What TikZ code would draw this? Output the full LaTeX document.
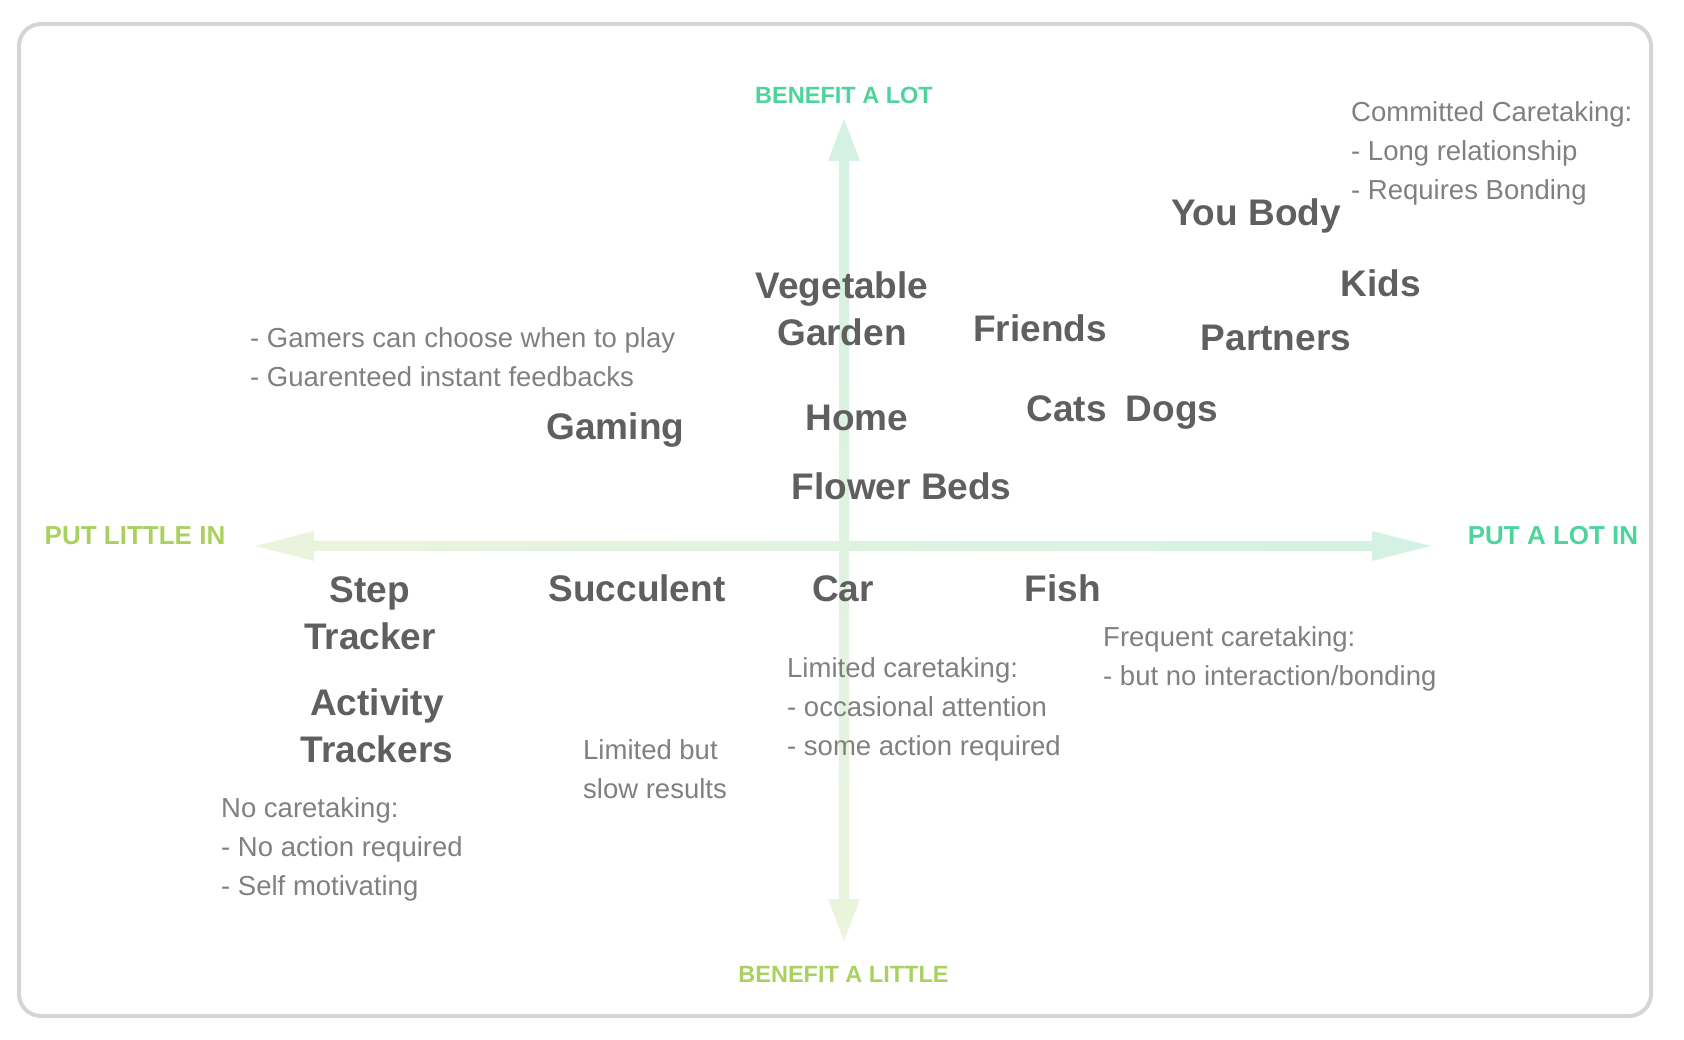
\documentclass[tikz,border=0pt]{standalone}
\usepackage{fontspec}
\setmainfont{Liberation Sans}
\usetikzlibrary{calc}

\definecolor{txtdark}{HTML}{5F5F5F}
\definecolor{txtnote}{HTML}{808080}
\definecolor{lotgreen}{HTML}{4CD49C}
\definecolor{littlegreen}{HTML}{A9D15F}
\definecolor{arrowlot}{HTML}{D3F1E4}
\definecolor{arrowlittle}{HTML}{EBF4DC}
\definecolor{framegray}{HTML}{D5D5D5}

\begin{document}
\begin{tikzpicture}[x=1pt, y=-1pt,
    item/.style={anchor=base, inner sep=0, align=center, text=txtdark,
        font=\fontsize{37}{47}\selectfont\bfseries},
    note/.style={anchor=base west, inner sep=0, align=left, text=txtnote,
        font=\fontsize{27.5}{39}\selectfont},
    axislot/.style={anchor=base, inner sep=0, text=lotgreen},
    axislittle/.style={anchor=base, inner sep=0, text=littlegreen}]

    \useasboundingbox (0, 0) rectangle (1684, 1040);

    \def\framethick{4pt}

    \coordinate (left) at (255, 546);
    \coordinate (right) at (1431, 546);
    \coordinate (top) at (844, 119);
    \coordinate (bottom) at (844, 941);

    % frame
    \draw[framegray, line width=\framethick, rounded corners=22] (19, 24) rectangle (1651, 1016);

    % axes
    \shade[left color=arrowlittle, right color=arrowlot] (left) -- ++(59, 15) -- ++(0, -10) -- ++(1058, 0) -- ++(0, 10)
        -- (right) -- ++(-59, -15) -- ++(0, 10) -- ++(-1058, 0) -- ++(0, -10) -- cycle;
    \shade[top color=arrowlot, bottom color=arrowlittle] (top) -- ++(16, 42) -- ++(-11, 0) -- ++(0, 738) -- ++(11, 0)
        -- (bottom) -- ++(-16, -42) -- ++(11, 0) -- ++(0, -738) -- ++(-11, 0) -- cycle;

    \node[axislot, font=\fontsize{23.5}{23.5}\selectfont\bfseries] (lot) at (844, 104) {BENEFIT A LOT};
    \node[axislittle, font=\fontsize{23.5}{23.5}\selectfont\bfseries] (little) at (843.5, 982) {BENEFIT A LITTLE};
    \node[axislittle, font=\fontsize{26}{26}\selectfont\bfseries] (putlittle) at (135, 544) {PUT LITTLE IN};
    \node[axislot, font=\fontsize{26}{26}\selectfont\bfseries] (putlot) at (1553, 544) {PUT A LOT IN};

    % things to care for
    \node[item] (veggie) at (842, 346) {Vegetable\\Garden};
    \node[item] (friends) at (1040, 342) {Friends};
    \node[item] (youbody) at (1256, 226) {You Body};
    \node[item] (kids) at (1381, 297) {Kids};
    \node[item] (partners) at (1276, 351) {Partners};
    \node[item] (cats) at (1066.5, 421) {Cats};
    \node[item] (dogs) at (1172, 421) {Dogs};
    \node[item] (home) at (857, 430) {Home};
    \node[item] (gaming) at (615.5, 439) {Gaming};
    \node[item] (flowers) at (901.5, 499) {Flower Beds};
    \node[item] (step) at (370, 649) {Step\\Tracker};
    \node[item] (succulent) at (637, 601) {Succulent};
    \node[item] (car) at (843, 601) {Car};
    \node[item] (fish) at (1063, 601) {Fish};
    \node[item] (activity) at (377, 762) {Activity\\Trackers};

    % notes
    \node[note] (committed) at (1351, 200) {Committed Caretaking:\\- Long relationship\\- Requires Bonding};
    \node[note] (gamers) at (250, 387) {- Gamers can choose when to play\\- Guarenteed instant feedbacks};
    \node[note] (limitedcare) at (787, 755) {Limited caretaking:\\- occasional attention\\- some action required};
    \node[note] (frequent) at (1103, 685) {Frequent caretaking:\\- but no interaction/bonding};
    \node[note] (limitedbut) at (583, 798) {Limited but\\slow results};
    \node[note] (nocare) at (221, 895) {No caretaking:\\- No action required\\- Self motivating};

\end{tikzpicture}
\end{document}
